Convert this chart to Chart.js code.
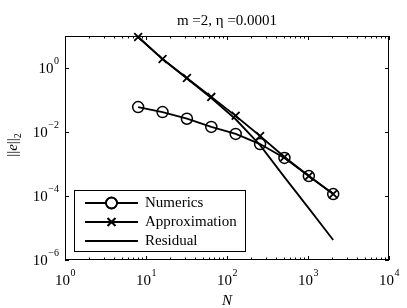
<!DOCTYPE html>
<html>
<head>
<meta charset="utf-8">
<script src="https://cdn.jsdelivr.net/npm/chart.js@4.4.1/dist/chart.umd.min.js"></script>
<style>
html,body{margin:0;padding:0;background:#fff;}
#wrap{width:407px;height:308px;position:relative;}
</style>
</head>
<body>
<div id="wrap"><canvas id="c" width="407" height="308"></canvas></div>
<script>
const titleText = "m =2, \u03B7 =0.0001";
const N = [8, 16, 32, 64, 128, 256, 512, 1024, 2048];
const numerics = [0.060, 0.042, 0.026, 0.0144, 0.0087, 0.0042, 0.00155, 0.00042, 0.000115];
const approximation = [9.3, 1.9, 0.49, 0.125, 0.032, 0.0075, 0.00166, 0.00042, 0.000115];
const residual = [9.3, 1.9, 0.47, 0.115, 0.025, 0.0039, 0.00039, 0.000041, 0.0000042];
const xTickExps = [0, 1, 2, 3, 4];
const yTickExps = [-6, -4, -2, 0];
const legendLabels = ["Numerics", "Approximation", "Residual"];

const SERIF = "'Liberation Serif', 'Times New Roman', serif";

function pts(ys) { return N.map((n, i) => ({x: n, y: ys[i]})); }

const decor = {
  id: 'decor',
  afterDraw(chart) {
    const ctx = chart.ctx;
    const a = chart.chartArea;
    const xs = chart.scales.x, ys = chart.scales.y;
    ctx.save();
    ctx.strokeStyle = '#000';
    ctx.fillStyle = '#000';
    ctx.lineWidth = 1;
    // frame
    ctx.strokeRect(Math.round(a.left) + 0.5, Math.round(a.top) + 0.5,
                   Math.round(a.right - a.left) - 1, Math.round(a.bottom - a.top) - 1);
    // x ticks
    ctx.beginPath();
    for (let d = xTickExps[0]; d <= xTickExps[xTickExps.length - 1]; d++) {
      for (let k = 1; k <= 9; k++) {
        if (d === xTickExps[xTickExps.length - 1] && k > 1) break;
        const v = k * Math.pow(10, d);
        const px = Math.round(xs.getPixelForValue(v)) + 0.5;
        const len = k === 1 ? 4 : 2.5;
        ctx.moveTo(px, a.bottom); ctx.lineTo(px, a.bottom - len);
        ctx.moveTo(px, a.top); ctx.lineTo(px, a.top + len);
      }
    }
    // y ticks
    yTickExps.forEach(e => {
      const py = Math.round(ys.getPixelForValue(Math.pow(10, e))) + 0.5;
      ctx.moveTo(a.left, py); ctx.lineTo(a.left + 4, py);
      ctx.moveTo(a.right, py); ctx.lineTo(a.right - 4, py);
    });
    ctx.stroke();

    const baseFont = '15px ' + SERIF;
    const supFont = '10px ' + SERIF;
    function expStr(e) { return e < 0 ? '\u2212' + Math.abs(e) : String(e); }
    // x labels
    ctx.textBaseline = 'alphabetic';
    xTickExps.forEach(e => {
      const px = xs.getPixelForValue(Math.pow(10, e));
      ctx.font = baseFont; const w1 = ctx.measureText('10').width;
      ctx.font = supFont; const w2 = ctx.measureText(expStr(e)).width;
      const x0 = px - (w1 + w2) / 2;
      ctx.font = baseFont; ctx.textAlign = 'left';
      ctx.fillText('10', x0, 285);
      ctx.font = supFont;
      ctx.fillText(expStr(e), x0 + w1 + 0.5, 276);
    });
    // y labels
    yTickExps.forEach(e => {
      const py = ys.getPixelForValue(Math.pow(10, e));
      ctx.font = supFont; const w2 = ctx.measureText(expStr(e)).width;
      ctx.font = baseFont; const w1 = ctx.measureText('10').width;
      const xr = a.left - 6;
      ctx.textAlign = 'left';
      ctx.font = baseFont;
      ctx.fillText('10', xr - w2 - w1 - 0.5, py + 5);
      ctx.font = supFont;
      ctx.fillText(expStr(e), xr - w2, py - 4);
    });
    // title
    ctx.font = '15px ' + SERIF;
    ctx.textAlign = 'center';
    ctx.fillText(titleText, (a.left + a.right) / 2, 25);
    // x axis title
    ctx.font = 'italic 15px ' + SERIF;
    ctx.fillText('N', (a.left + a.right) / 2, 305);
    // y axis title
    ctx.save();
    const cy = (a.top + a.bottom) / 2 - 3;
    ctx.translate(17, cy);
    ctx.rotate(-Math.PI / 2);
    ctx.textAlign = 'left';
    const f1 = '15px ' + SERIF, f2 = 'italic 15px ' + SERIF, f3 = '10px ' + SERIF;
    ctx.font = f1; const wb = ctx.measureText('||').width;
    ctx.font = f2; const we = ctx.measureText('e').width;
    ctx.font = f3; const ws = ctx.measureText('2').width;
    let x = -(wb * 2 + we + ws) / 2;
    ctx.font = f1; ctx.fillText('||', x, 0); x += wb;
    ctx.font = f2; ctx.fillText('e', x, 0); x += we;
    ctx.font = f1; ctx.fillText('||', x, 0); x += wb;
    ctx.font = f3; ctx.fillText('2', x, 4);
    ctx.restore();

    // legend
    const lb = {l: 74, t: 190, r: 246, b: 252};
    ctx.fillStyle = '#fff';
    ctx.fillRect(lb.l, lb.t, lb.r - lb.l, lb.b - lb.t);
    ctx.strokeStyle = '#000';
    ctx.lineWidth = 1;
    ctx.strokeRect(lb.l + 0.5, lb.t + 0.5, lb.r - lb.l - 1, lb.b - lb.t - 1);
    const rows = [203, 222, 241];
    chart.data.datasets.forEach((ds, i) => {
      const y = rows[i];
      ctx.strokeStyle = ds.borderColor;
      ctx.lineWidth = ds.borderWidth;
      ctx.beginPath(); ctx.moveTo(85, y); ctx.lineTo(138, y); ctx.stroke();
      if (ds.pointRadius > 0) {
        Chart.helpers.drawPoint(ctx, {
          pointStyle: ds.pointStyle, radius: ds.pointRadius, rotation: 0,
          borderWidth: ds.pointBorderWidth
        }, 111.5, y);
        ctx.lineWidth = ds.pointBorderWidth;
        ctx.strokeStyle = '#000';
        ctx.stroke();
      }
      ctx.fillStyle = '#000';
      ctx.font = '15px ' + SERIF;
      ctx.textAlign = 'left';
      ctx.textBaseline = 'middle';
      ctx.fillText(legendLabels[i], 145, y);
      ctx.textBaseline = 'alphabetic';
    });
    ctx.restore();
  }
};

new Chart(document.getElementById('c'), {
  type: 'line',
  data: {
    datasets: [
      { label: legendLabels[0], data: pts(numerics), borderColor: '#000', backgroundColor: 'rgba(0,0,0,0)',
        borderWidth: 1.8, pointStyle: 'circle', pointRadius: 5.5, pointBorderWidth: 1.5,
        pointBackgroundColor: 'rgba(0,0,0,0)', pointBorderColor: '#000', clip: false },
      { label: legendLabels[1], data: pts(approximation), borderColor: '#000', backgroundColor: 'rgba(0,0,0,0)',
        borderWidth: 1.8, pointStyle: 'crossRot', pointRadius: 5.5, pointBorderWidth: 1.8,
        pointBackgroundColor: 'rgba(0,0,0,0)', pointBorderColor: '#000', clip: false },
      { label: legendLabels[2], data: pts(residual), borderColor: '#000', backgroundColor: 'rgba(0,0,0,0)',
        borderWidth: 1.8, pointRadius: 0, pointBorderWidth: 0, clip: false }
    ]
  },
  options: {
    responsive: false,
    animation: false,
    layout: { padding: { left: 65, right: 18, top: 36, bottom: 48 } },
    plugins: { legend: { display: false }, title: { display: false }, tooltip: { enabled: false } },
    elements: { line: { tension: 0 } },
    scales: {
      x: { type: 'logarithmic', min: 1, max: 10000, display: false },
      y: { type: 'logarithmic', min: 1e-6, max: 10, display: false }
    }
  },
  plugins: [decor]
});
</script>
</body>
</html>
